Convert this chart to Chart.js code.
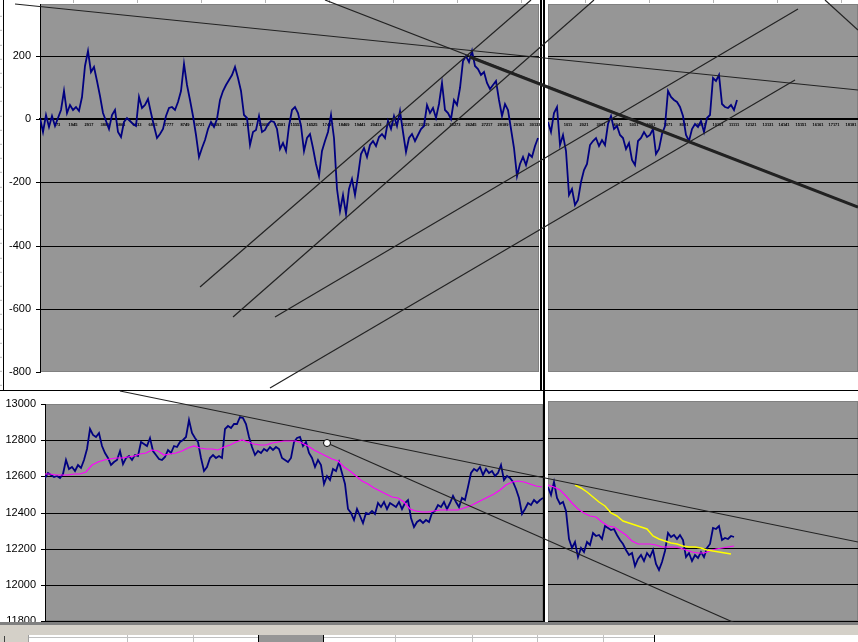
<!DOCTYPE html>
<html>
<head>
<meta charset="utf-8">
<script src="https://cdn.jsdelivr.net/npm/chart.js@4.4.1/dist/chart.umd.min.js"></script>
<style>
  html, body { margin: 0; padding: 0; background: #fff; }
  #sheet { position: relative; width: 858px; height: 642px; overflow: hidden; background: #fff; }
  #sheet canvas { position: absolute; left: 0; }
  .abs { position: absolute; }
</style>
</head>
<body>
<div id="sheet">
  <!-- sheet grid peeking out around the charts -->
  <div class="abs" style="left:0;top:0;width:858px;height:3px;background:repeating-linear-gradient(to right, transparent 0 63px, #b4b4b4 63px 64px);background-position:10px 0;"></div>
  <div class="abs" style="left:0;top:0;width:2px;height:390px;background:repeating-linear-gradient(to bottom, transparent 0 13.2px, #b4b4b4 13.2px 14.2px);background-position:0 2.8px;"></div>

  <canvas id="trChart" width="858" height="390" style="top:0"></canvas>
  <canvas id="brChart" width="858" height="252" style="top:390px"></canvas>

  <!-- frozen pane split -->
  <div class="abs" style="left:539px;top:0;width:9px;height:390px;background:#fff"></div>
  <div class="abs" style="left:540px;top:0;width:2px;height:390px;background:#000"></div>
  <div class="abs" style="left:543px;top:0;width:2px;height:390px;background:#000"></div>
  <div class="abs" style="left:543px;top:390px;width:5px;height:234px;background:#fff"></div>
  <div class="abs" style="left:543px;top:390px;width:2px;height:234px;background:#000"></div>
  <div class="abs" style="left:3px;top:0;width:1px;height:390px;background:#000"></div>
  <div class="abs" style="left:0;top:390px;width:858px;height:1px;background:#000"></div>

  <canvas id="tlChart" width="858" height="390" style="top:0"></canvas>
  <canvas id="blChart" width="858" height="252" style="top:390px"></canvas>

  <!-- window bottom: scroll strip and next sheet row -->
  <div class="abs" style="left:0;top:622px;width:858px;height:3px;background:#808080"></div>
  <div class="abs" style="left:0;top:625px;width:858px;height:10px;background:#d4d0c8"></div>
  <div class="abs" style="left:0;top:635px;width:858px;height:7px;background:#fff"></div>
  <div class="abs" style="left:0;top:635px;width:28px;height:7px;background:#d4d0c8"></div>
  <div class="abs" style="left:4px;top:636px;width:1px;height:6px;background:#404040"></div>
  <div class="abs" style="left:28px;top:637px;width:626px;height:1px;background:#c0c0c0"></div>
  <div class="abs" style="left:28px;top:635px;width:1px;height:7px;background:#a0a0a0"></div>
  <div class="abs" style="left:127px;top:635px;width:1px;height:7px;background:#c0c0c0"></div>
  <div class="abs" style="left:193px;top:635px;width:1px;height:7px;background:#c0c0c0"></div>
  <div class="abs" style="left:258px;top:635px;width:64px;height:7px;background:#969696;border-left:1px solid #000;border-right:1px solid #000"></div>
  <div class="abs" style="left:395px;top:635px;width:1px;height:7px;background:#c0c0c0"></div>
  <div class="abs" style="left:472px;top:635px;width:1px;height:7px;background:#c0c0c0"></div>
  <div class="abs" style="left:537px;top:635px;width:1px;height:7px;background:#c0c0c0"></div>
  <div class="abs" style="left:603px;top:635px;width:1px;height:7px;background:#c0c0c0"></div>
  <div class="abs" style="left:654px;top:635px;width:1px;height:7px;background:#000"></div>
</div>

<script>
const FONT = '"Liberation Sans", Arial, sans-serif';
const NAVY = '#000080';
const PINK = '#ff00ff';
const YELLOW = '#ffff00';
const LINE_COLOR = '#222222';

// 1. TICKS
const tlXTicks = [973, 1945, 2917, 3889, 4861, 5833, 6805, 7777, 8749, 9721, 10693, 11665, 12637, 13609,
  14581, 15553, 16525, 17497, 18469, 19441, 20413, 21385, 22357, 23329, 24301, 25273, 26245, 27217, 28189, 29161, 30133];
const trXTicks = [1011, 2021, 3031, 4041, 5051, 6061, 7071, 8081, 9091, 10101, 11111, 12121, 13131, 14141,
  15151, 16161, 17171, 18181];
const topYTicks = [-800, -600, -400, -200, 0, 200];
const bottomYTicks = [11800, 12000, 12200, 12400, 12600, 12800, 13000];

// 2. SERIES
const tlValues = [
  5, -40, 15, -25, 10, -20, 5, 30, 90, 20, 45, 30, 40, 25, 70, 170, 215, 150, 165, 120,
  75, 20, -5, -30, 15, 30, -40, -55, -10, 5, -5, -15, -20, 70, 35, 45, 65, 20, -20, -60,
  -45, -30, 10, 35, 40, 30, 55, 90, 175, 110, 60, 10, -50, -120, -90, -65, -30, -10, -25, 0,
  60, 90, 110, 125, 140, 165, 130, 90, 15, 5, -80, -40, -35, 10, -40, -35, -15, -5, -10, -30,
  -95, -75, -100, -20, 30, 40, 20, -20,
  -100, -60, -45, -90, -140, -180, -100, -70, -40, 15, -60, -220, -290, -240, -300, -220, -190, -240, -180, -110,
  -90, -120, -80, -70, -85, -55, -45, -60, -5, -30, 10, -20, 25, -40, -105, -60, -45, -70, -50, -30,
  -20, 45, 20, 35, 5, 50, 115, 30, 20, 0, 60, 45, 100, 185, 200, 180, 215, 170, 160, 140,
  150, 115, 95, 110, 120, 60, 10, 50, 30, -30, -90, -180, -140, -120, -145, -110, -120, -85, -60
];
const trValues = [
  -10, -40, 20, 40, -80, -50, -100, -240, -220, -270, -255, -200, -160, -140, -80, -70, -60, -85, -65, -80,
  -15, 10, -30, -20, -50, -60, -95, -75, -130, -145, -70, -60, -40, -55, -50, -30, -110, -95, -45, -20,
  90, 70, 60, 55, 40, 10, -50, -70, -30, -15, -25, -5, -40, 5, 15, 130, 120, 140, 50, 40,
  35, 45, 30, 60
];
const blPrice = [
  12590, 12620, 12605, 12595, 12600, 12590, 12615, 12690, 12640, 12650, 12630, 12660, 12645, 12690, 12750, 12860, 12830, 12815, 12840, 12770,
  12730, 12700, 12660, 12680, 12690, 12740, 12670, 12700, 12715, 12690, 12720, 12710, 12790, 12780, 12770, 12810, 12740, 12720, 12695, 12690,
  12705, 12745, 12730, 12770, 12760, 12790, 12800, 12820, 12910, 12840, 12810, 12790, 12700, 12630, 12650, 12700, 12720, 12700, 12710, 12700,
  12860, 12880, 12870, 12890, 12890, 12930, 12920, 12890, 12820, 12760, 12720, 12740, 12730, 12750, 12740, 12760, 12745, 12760, 12750, 12700,
  12690, 12680, 12700, 12790, 12810, 12820,
  12770, 12790, 12730, 12700, 12650, 12690, 12660, 12560, 12600, 12580, 12640, 12630, 12680, 12620, 12560, 12420, 12400, 12360, 12420, 12380,
  12340, 12400, 12390, 12410, 12390, 12450, 12430, 12460, 12420, 12450, 12440, 12430, 12460, 12420, 12450, 12470, 12370, 12320, 12350, 12360,
  12340, 12360, 12350, 12400, 12410, 12440, 12430, 12460, 12420, 12450, 12490, 12460, 12430, 12480, 12470, 12540, 12620, 12640, 12630, 12650,
  12610, 12640, 12620, 12630, 12600, 12620, 12660, 12580, 12600, 12590, 12570, 12530, 12480, 12390, 12420, 12450, 12440, 12470, 12450, 12470,
  12480
];
const blAverage = [
  12615, 12612, 12610, 12608, 12610, 12612, 12615, 12625, 12665, 12680, 12690, 12695, 12700, 12702, 12708, 12715, 12722, 12728, 12745, 12742,
  12720, 12722, 12730, 12740, 12758, 12765, 12755, 12752, 12750, 12748, 12762, 12772, 12788, 12800, 12792, 12778, 12775, 12775, 12785, 12792,
  12795, 12795, 12793, 12785, 12765, 12748, 12730, 12712, 12695, 12685, 12650, 12630, 12600, 12575, 12555, 12535, 12520, 12500, 12488, 12478,
  12460, 12420, 12408, 12405, 12405, 12410, 12412, 12415, 12415, 12416, 12425, 12438, 12450, 12468, 12485, 12500, 12525, 12552, 12568, 12572,
  12568, 12560, 12548, 12540
];
const brPrice = [
  12530, 12490, 12560, 12470, 12440, 12450, 12400, 12250, 12200, 12230, 12150, 12200, 12175, 12230, 12215, 12280, 12265, 12270, 12250, 12320,
  12310, 12295, 12300, 12270, 12240, 12220, 12190, 12160, 12170, 12100, 12140, 12160, 12130, 12170, 12150, 12190, 12110, 12080, 12120, 12180,
  12280, 12260, 12270, 12250, 12270, 12240, 12150, 12170, 12130, 12160, 12145, 12175, 12150, 12200, 12220, 12310, 12300, 12320, 12240, 12255,
  12245, 12265, 12260
];
const brAverage = [
  12540, 12530, 12515, 12480, 12445, 12410, 12390, 12375, 12368, 12340, 12318, 12312, 12290, 12268, 12235, 12222, 12220, 12218, 12212, 12205,
  12204, 12205, 12198, 12188, 12178, 12170, 12172, 12180, 12192, 12198, 12202, 12210
];
const brAverageLong = [
  12540, 12528, 12505, 12475, 12450, 12430, 12390, 12372, 12345, 12335, 12325, 12315, 12300, 12265, 12250, 12235, 12225, 12222, 12210, 12205,
  12202, 12198, 12188, 12182, 12175, 12170, 12167
];

// first category and category step of each sampled series
const TL_START = -68, TL_STEP = 183;
const TR_START = -181, TR_STEP = 181.8;
const BL_START = 0, BL_STEP = 183, BL_AVG_START = -61, BL_AVG_STEP = 366;
const BR_START = -181, BR_STEP = 181.8, BR_AVG_STEP = 363.6, BR_LONG_START = 1455;

// axis ranges
const TL_X = [-68, 30371], TR_X = [-181, 18605], BL_X = [0, 30378], BR_X = [-181, 18605];
const TOP_Y = [-800, 365], BOTTOM_Y = [11800, 13000];

// 3. HAND-DRAWN TREND LINES [x1, y1, x2, y2] in the left panes' units
const topTrendLines = [
  [-1593, 364.6, 49830, 92.4],
  [17317, 377, 49830, -277.8],
  [9692, -531, 29883, 377],
  [11705, -626, 33726, 377],
  [14267, -626, 46170, 348.7],
  [13962, -850.6, 45987, 124]
];
const topThickLine = [26162, 196.8, 49830, -277.8];
const topRightLine = [16605, 377, 18605, 282];   // right pane units
const bottomTrendLines = [
  [4575, 13071.9, 49593, 12236.9],
  [17202, 12784.3, 42090, 11789]
];

Chart.defaults.font.family = FONT;

// grey plot area like Excel
Chart.register({
  id: 'plotBg',
  beforeDraw(chart) {
    const a = chart.chartArea, ctx = chart.ctx;
    ctx.save();
    ctx.fillStyle = '#969696';
    ctx.fillRect(a.left, a.top, a.right - a.left, a.bottom - a.top);
    ctx.strokeStyle = '#808080';
    ctx.lineWidth = 1;
    ctx.strokeRect(a.left + 0.5, a.top + 0.5, a.right - a.left - 1, a.bottom - a.top - 1);
    ctx.restore();
  }
});

function toPoints(values, start, step) {
  return values.map((v, i) => ({ x: start + i * step, y: v }));
}

function seriesDataset(values, start, step, color, width, order) {
  return { data: toPoints(values, start, step), borderColor: color, borderWidth: width,
    pointRadius: 0, tension: 0, fill: false, order: order };
}

function trendDataset(l, width) {
  return { data: [{ x: l[0], y: l[1] }, { x: l[2], y: l[3] }], borderColor: LINE_COLOR, borderWidth: width,
    pointRadius: 0, tension: 0, fill: false, clip: false, order: 0 };
}

function gridColor(hidden) {
  return c => (c.tick && hidden.includes(c.tick.value)) ? 'rgba(0,0,0,0)' : '#000';
}

function valueAxis(range, ticks, width, hidden, showLabels) {
  return {
    type: 'linear', min: range[0], max: range[1], alignToPixels: true,
    afterBuildTicks: s => { s.ticks = ticks.map(v => ({ value: v })); },
    afterFit: s => { s.width = width; s.paddingTop = 0; s.paddingBottom = 0; },
    ticks: { display: showLabels, color: '#000', font: { size: 11 }, padding: 5, callback: v => String(v) },
    grid: { color: gridColor(hidden), tickColor: '#000', tickLength: 4, drawTicks: showLabels, lineWidth: 1 },
    border: { display: showLabels, color: '#000', width: 1 }
  };
}

function zeroAxis(range, ticks) {
  return {
    type: 'linear', min: range[0], max: range[1], position: { y: 0 }, alignToPixels: true,
    afterBuildTicks: s => { s.ticks = ticks.map(v => ({ value: v })); },
    afterFit: s => { s.paddingLeft = 0; s.paddingRight = 0; },
    grid: { display: false, drawTicks: false },
    border: { color: '#000', width: 2 },
    ticks: { color: '#000', font: { size: 4, weight: 'bold' }, padding: 3, autoSkip: false,
      maxRotation: 0, minRotation: 0, callback: v => String(v) }
  };
}

function hiddenAxis(range) {
  return { type: 'linear', display: false, min: range[0], max: range[1],
    afterFit: s => { s.paddingLeft = 0; s.paddingRight = 0; } };
}

function options(padding, scales) {
  return {
    responsive: false, animation: false, devicePixelRatio: 1, events: [],
    layout: { padding: padding, autoPadding: false },
    plugins: { legend: { display: false }, tooltip: { enabled: false } },
    scales: scales
  };
}

// 4. RIGHT PANES (underneath)
new Chart(document.getElementById('trChart'), {
  type: 'line',
  data: { datasets: [
    seriesDataset(trValues, TR_START, TR_STEP, NAVY, 1.8, 2),
    trendDataset(topRightLine, 1.2)
  ] },
  options: options({ left: 548, top: 4, right: 0, bottom: 18 }, {
    x: zeroAxis(TR_X, trXTicks),
    y: valueAxis(TOP_Y, topYTicks, 0, [-800], false)
  })
});

new Chart(document.getElementById('brChart'), {
  type: 'line',
  data: { datasets: [
    seriesDataset(brPrice, BR_START, BR_STEP, NAVY, 1.8, 3),
    seriesDataset(brAverage, BR_START, BR_AVG_STEP, PINK, 1.2, 2),
    seriesDataset(brAverageLong, BR_LONG_START, BR_AVG_STEP, YELLOW, 1.5, 1)
  ] },
  options: options({ left: 548, top: 11, right: 0, bottom: 21 }, {
    x: hiddenAxis(BR_X),
    y: valueAxis(BOTTOM_Y, bottomYTicks, 0, [13000], false)
  })
});

// 5. LEFT PANES (on top, trend lines run across the whole window)
const circleLine = trendDataset(bottomTrendLines[1], 1.2);
circleLine.pointRadius = [3.5, 0];
circleLine.pointBackgroundColor = '#fff';
circleLine.pointBorderColor = '#000';
circleLine.pointBorderWidth = 1;

new Chart(document.getElementById('tlChart'), {
  type: 'line',
  data: { datasets: [
    seriesDataset(tlValues, TL_START, TL_STEP, NAVY, 1.8, 2),
    ...topTrendLines.map(l => trendDataset(l, 1.2)),
    trendDataset(topThickLine, 3)
  ] },
  options: options({ left: 0, top: 4, right: 858 - 539, bottom: 18 }, {
    x: zeroAxis(TL_X, tlXTicks),
    y: valueAxis(TOP_Y, topYTicks, 40, [-800], true)
  })
});

new Chart(document.getElementById('blChart'), {
  type: 'line',
  data: { datasets: [
    seriesDataset(blPrice, BL_START, BL_STEP, NAVY, 1.8, 3),
    seriesDataset(blAverage, BL_AVG_START, BL_AVG_STEP, PINK, 1.2, 2),
    trendDataset(bottomTrendLines[0], 1.2),
    circleLine
  ] },
  options: options({ left: 0, top: 14, right: 858 - 543, bottom: 21 }, {
    x: hiddenAxis(BL_X),
    y: valueAxis(BOTTOM_Y, bottomYTicks, 45, [13000], true)
  })
});
</script>
</body>
</html>
